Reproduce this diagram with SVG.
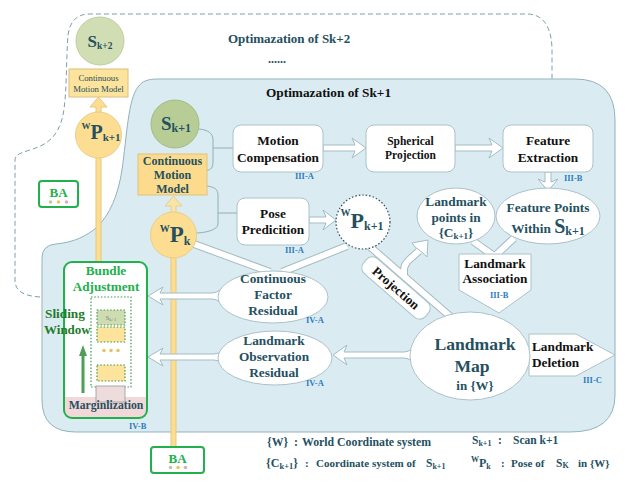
<svg xmlns="http://www.w3.org/2000/svg" width="625" height="491" viewBox="0 0 625 491">
<defs>
<style>
text{font-family:"Liberation Serif","Times New Roman",serif;font-weight:bold;}
.teal{fill:#24505f;}
.blk{fill:#111;}
.lbl{fill:#2e7cc0;font-size:8.5px;}
.box{fill:#fff;stroke:#aac2ca;stroke-width:1;}
.harrow{fill:#fff;stroke:#a3bcc5;stroke-width:1;}
.bandO{fill:none;stroke:#a3bcc5;stroke-width:8;stroke-linecap:butt;stroke-linejoin:round;}
.bandI{fill:none;stroke:#fff;stroke-width:6;stroke-linecap:butt;stroke-linejoin:round;}
.thin{fill:none;stroke:#8fb0b8;stroke-width:1;}
.yel{fill:#fcdd91;stroke:#e6c87e;stroke-width:1;}
.green{fill:#22b04c;}
.bagreen{fill:#fff;stroke:#22b04c;stroke-width:2;}
.dotg{stroke:#3a9a4a;stroke-width:1.2;stroke-dasharray:1.5,1.8;}
</style>
</defs>

<!-- containers -->
<path id="outer-dashed" d="M40,297 C25,296 15,292 15,280 L15,160 C15,155 20,153 30,150 C46,145 58,138 63,115 C67,95 66,60 68,35 C70,22 76,14 90,14 L527,14 C545,14 552,30 552,50 L552,79" fill="none" stroke="#7f9ea8" stroke-width="1" stroke-dasharray="5,3"/>
<path id="inner-region" d="M42,258 Q42,245 56,244 C75,242 86,236 96,228 C110,215 118,195 122,170 C127,135 128,100 138,87 C142,81 148,79 158,79 L575,79 Q615,79 615,120 L615,395 Q615,432 570,432 L76,432 Q42,432 42,400 Z" fill="#daecf2" stroke="#93b2bc" stroke-width="1"/>

<!-- titles -->
<text x="228" y="43" font-size="13" class="teal">Optimazation of Sk+2</text>
<text x="268" y="63" font-size="12" class="teal">......</text>
<text x="266" y="97" font-size="13.3" class="blk">Optimazation of Sk+1</text>

<!-- connectors -->
<g id="connectors">
<path class="thin" d="M199,129 C208,130 213,133 213,140 L213,161 C213,168 211,170 207,170"/>
<path class="thin" d="M213,148 L233,148"/>
<path class="thin" d="M207,186 C214,187 218,189 218,195 L218,224 C218,230 205,233 195,233"/>
<path class="thin" d="M218,213 L237,213"/>

<!-- yellow bars and arrows -->
<rect x="96" y="112" width="5" height="150" class="yel"/>
<path d="M96,113 V107 H90 L98.5,97 L107,107 H101 V113 Z" class="yel"/>
<rect x="171" y="257" width="5" height="190" class="yel"/>
<path d="M171,213 V206 H165 L173.5,196 L182,206 H176 V213 Z" fill="#f8e3a8" stroke="#e6cf90" stroke-width="1"/>

<!-- white bands -->
<g>
<path class="bandO" d="M194,244 L270,272"/>
<path class="bandO" d="M347,246 L282,272"/>
<path class="bandO" d="M368,245 L452,318"/>
<path class="bandO" d="M404,277 L404,270 Q404,264 410,259 L419,251"/>
<path class="bandO" d="M473,241 L494,256"/>
<path class="bandO" d="M514,238 L495,256"/>
<path class="bandI" d="M194,244 L270,272"/>
<path class="bandI" d="M347,246 L282,272"/>
<path class="bandI" d="M368,245 L452,318"/>
<path class="bandI" d="M404,277 L404,270 Q404,264 410,259 L420,250"/>
<path class="bandI" d="M473,241 L494,256"/>
<path class="bandI" d="M514,238 L495,256"/>
<path class="harrow" d="M415,247 L412,243 L428,240 L427,257 L423,253 Z"/>
</g>

<!-- hollow arrows -->
<path class="harrow" d="M323,145 H355 L352,138 L366,148 L352,158 L355,151 H323 Z"/>
<path class="harrow" d="M455,145 H492 L489,138 L503,148 L489,158 L492,151 H455 Z"/>
<path class="harrow" d="M545,172 V182 L538,179 L548,191 L558,179 L551,182 V172 Z"/>
<path class="harrow" d="M309,217 H326 L323,210 L336,220 L323,230 L326,223 H309 Z"/>
<path class="harrow" d="M220,290 Q216,293 212,293 H160 L163,287 L148,296 L163,305 L160,299 H212 Q216,299 220,302 Z"/>
<path class="harrow" d="M222,351 Q218,354 214,354 H160 L163,348 L148,357 L163,366 L160,360 H214 Q218,360 222,363 Z"/>
<path class="harrow" d="M412,349 Q408,352 404,352 H344 L347,345 L333,355 L347,365 L344,358 H404 Q408,358 412,361 Z"/>
</g>

<!-- Sk+2 -->
<g id="node-sk2">
<circle cx="100" cy="41" r="24" fill="#d1ddb3" stroke="#bfcf9f" stroke-width="1"/>
<text x="100" y="47" text-anchor="middle" class="teal"><tspan font-size="17">S</tspan><tspan font-size="9.5" dy="2">k+2</tspan></text>
</g>

<!-- small CMM -->
<g id="node-cmm-small">
<rect x="69" y="69" width="59" height="28" fill="#fde39b" stroke="#d9c084" stroke-width="1"/>
<text x="98.5" y="81" text-anchor="middle" font-size="8.7" class="teal" style="font-weight:normal">Continuous</text>
<text x="98.5" y="92" text-anchor="middle" font-size="8.7" class="teal" style="font-weight:normal">Motion Model</text>
</g>

<!-- Wpk+1 left -->
<g id="node-wpk1-left">
<circle cx="98.5" cy="135" r="23" fill="#fcdd91" stroke="#e9cf88" stroke-width="1"/>
<text x="101" y="139" text-anchor="middle" class="teal"><tspan font-size="9" dy="-10">W</tspan><tspan font-size="20" dy="10">P</tspan><tspan font-size="11" dy="2">k+1</tspan></text>
</g>

<!-- BA left -->
<g id="node-ba-left">
<rect x="39" y="181" width="39" height="26" rx="3" class="bagreen"/>
<text x="58.5" y="197" text-anchor="middle" font-size="13" class="green">BA</text>
<circle cx="50.5" cy="202" r="1.8" fill="#b9cba3"/>
<circle cx="58.5" cy="202" r="1.8" fill="#e6c66a"/>
<circle cx="66.5" cy="202" r="1.8" fill="#d6b3bb"/>
</g>

<!-- Sk+1 -->
<g id="node-sk1">
<circle cx="175" cy="124" r="24" fill="#b7cd95" stroke="#a3bb86" stroke-width="1"/>
<text x="176" y="130" text-anchor="middle" class="teal"><tspan font-size="19">S</tspan><tspan font-size="12" dy="2">k+1</tspan></text>
</g>

<!-- CMM -->
<g id="node-cmm">
<rect x="138" y="154" width="69" height="41" fill="#fcdb8d" stroke="#dfc27c" stroke-width="1"/>
<text x="172.5" y="165" text-anchor="middle" font-size="12" class="teal">Continuous</text>
<text x="172.5" y="179" text-anchor="middle" font-size="12" class="teal">Motion</text>
<text x="172.5" y="193" text-anchor="middle" font-size="12" class="teal">Model</text>
</g>

<!-- Wpk -->
<g id="node-wpk">
<circle cx="173.5" cy="235" r="23" fill="#fcdd91" stroke="#e9cf88" stroke-width="1"/>
<text x="175" y="242" text-anchor="middle" class="teal"><tspan font-size="10" dy="-10">W</tspan><tspan font-size="23" dy="10">P</tspan><tspan font-size="12" dy="3">k</tspan></text>
</g>

<!-- BA bottom -->
<g id="node-ba-bottom">
<rect x="151" y="447" width="53" height="26" rx="3" class="bagreen"/>
<text x="177.5" y="463" text-anchor="middle" font-size="13" class="green">BA</text>
<circle cx="170.5" cy="467.5" r="1.8" fill="#b9cba3"/>
<circle cx="178" cy="467.5" r="1.8" fill="#e6c66a"/>
<circle cx="185.5" cy="467.5" r="1.8" fill="#d6b3bb"/>
</g>

<!-- Motion Compensation -->
<g id="node-motion-comp">
<rect x="233" y="125" width="90" height="47" rx="8" class="box"/>
<text x="278" y="145" text-anchor="middle" font-size="13.3" class="blk">Motion</text>
<text x="278" y="162" text-anchor="middle" font-size="13.3" class="blk">Compensation</text>
<text x="295" y="179" class="lbl">III-A</text>
</g>

<!-- Spherical Projection -->
<g id="node-spherical">
<rect x="366" y="125" width="89" height="47" rx="8" class="box"/>
<text x="410.5" y="145" text-anchor="middle" font-size="11.5" class="blk">Spherical</text>
<text x="410.5" y="159" text-anchor="middle" font-size="11.5" class="blk">Projection</text>
</g>

<!-- Feature Extraction -->
<g id="node-feature-ext">
<rect x="503" y="125" width="90" height="47" rx="8" class="box"/>
<text x="548" y="145" text-anchor="middle" font-size="13.3" class="blk">Feature</text>
<text x="548" y="162" text-anchor="middle" font-size="13.3" class="blk">Extraction</text>
<text x="564" y="181" class="lbl">III-B</text>
</g>

<!-- Pose Predicition -->
<g id="node-pose-pred">
<rect x="237" y="198" width="72" height="47" rx="8" class="box"/>
<text x="273" y="218" text-anchor="middle" font-size="13.3" class="blk">Pose</text>
<text x="273" y="234" text-anchor="middle" font-size="13.3" class="blk">Predicition</text>
<text x="285" y="253" class="lbl">III-A</text>
</g>

<!-- Wpk+1 dotted -->
<g id="node-wpk1">
<circle cx="363" cy="222" r="27" fill="#fff" stroke="#2a4f5e" stroke-width="1.2" stroke-dasharray="1.5,2"/>
<text x="362" y="228" text-anchor="middle" class="teal"><tspan font-size="10" dy="-12">W</tspan><tspan font-size="22" dy="12">P</tspan><tspan font-size="12" dy="2">k+1</tspan></text>
</g>

<!-- Landmark points in Ck+1 -->
<g id="node-landmark-points">
<ellipse cx="456" cy="216" rx="39" ry="28" class="box"/>
<text x="456" y="206" text-anchor="middle" font-size="13.3" class="teal">Landmark</text>
<text x="456" y="222" text-anchor="middle" font-size="13.3" class="teal">points in</text>
<text x="456" y="237" text-anchor="middle" class="teal"><tspan font-size="13.3">{C</tspan><tspan font-size="9" dy="2">k+1</tspan><tspan font-size="13.3" dy="-2">}</tspan></text>
</g>

<!-- Feature Points Within Sk+1 -->
<g id="node-feature-points">
<ellipse cx="548" cy="216" rx="52" ry="28" class="box"/>
<text x="548" y="212" text-anchor="middle" font-size="13.3" class="teal">Feature Points</text>
<text x="548" y="233" text-anchor="middle" class="teal"><tspan font-size="13.3">Within  </tspan><tspan font-size="20">S</tspan><tspan font-size="12" dy="2">k+1</tspan></text>
</g>

<!-- Landmark Association -->
<g id="node-landmark-assoc">
<path d="M459,254 H531 V290 L499,313 L459,290 Z" class="box"/>
<text x="495" y="268" text-anchor="middle" font-size="13.3" class="blk">Landmark</text>
<text x="495" y="283" text-anchor="middle" font-size="13.3" class="blk">Association</text>
<text x="490" y="298" class="lbl">III-B</text>
</g>

<!-- Projection label -->
<g id="node-projection" transform="translate(396,288) rotate(41)">
<rect x="-41" y="-10" width="82" height="20" rx="8" class="box"/>
<text x="0" y="4.5" text-anchor="middle" font-size="13" class="blk">Projection</text>
</g>

<!-- Continuous Factor Residual -->
<g id="node-cfr">
<ellipse cx="273" cy="297" rx="55" ry="26" class="box"/>
<text x="273" y="283" text-anchor="middle" font-size="13.3" class="teal">Continuous</text>
<text x="273" y="299" text-anchor="middle" font-size="13.3" class="teal">Factor</text>
<text x="273" y="315" text-anchor="middle" font-size="13.3" class="teal">Residual</text>
<text x="306" y="323" class="lbl">IV-A</text>
</g>

<!-- Landmark Observation Residual -->
<g id="node-lor">
<ellipse cx="275" cy="358" rx="57" ry="27" class="box"/>
<text x="274" y="345" text-anchor="middle" font-size="13.3" class="teal">Landmark</text>
<text x="274" y="361" text-anchor="middle" font-size="13.3" class="teal">Observation</text>
<text x="274" y="377" text-anchor="middle" font-size="13.3" class="teal">Residual</text>
<text x="306" y="386" class="lbl">IV-A</text>
</g>

<!-- Landmark Deletion -->
<g id="node-landmark-del">
<path d="M529,334 H576 L615,355 L576,376 H529 Z" class="box"/>
<text x="532" y="351" font-size="13.3" class="blk">Landmark</text>
<text x="532" y="367" font-size="13.3" class="blk">Deletion</text>
<text x="583" y="383" class="lbl">III-C</text>
</g>

<!-- Landmark Map -->
<g id="node-landmark-map">
<ellipse cx="470" cy="356" rx="60" ry="44" class="box"/>
<text x="475" y="350" text-anchor="middle" font-size="17.6" class="teal">Landmark</text>
<text x="472" y="372" text-anchor="middle" font-size="17.6" class="teal">Map</text>
<text x="475" y="390" text-anchor="middle" font-size="13" class="teal">in {W}</text>
</g>

<!-- Bundle Adjustment -->
<g id="node-bundle">
<rect x="64" y="262" width="83" height="156" rx="8" fill="#fff"/>
<rect x="65" y="397" width="81" height="20" fill="#f2d8d9"/>
<rect x="91" y="297" width="40" height="90" fill="#fff" class="dotg"/>
<rect x="97" y="310" width="28" height="15" fill="#cfdcb1" class="dotg"/>
<text x="111" y="320" text-anchor="middle" font-size="6" fill="#6a7a70" style="font-weight:normal">S<tspan font-size="4.5" dy="1">k+1</tspan></text>
<rect x="97" y="327" width="28" height="15" fill="#fde39b" class="dotg"/>
<circle cx="104" cy="350.5" r="1.8" fill="#e8c266"/>
<circle cx="111" cy="350.5" r="1.8" fill="#e8c266"/>
<circle cx="118" cy="350.5" r="1.8" fill="#e8c266"/>
<rect x="97" y="365" width="28" height="16" fill="#fde39b" class="dotg"/>
<rect x="96" y="386" width="29" height="16" fill="#eedcdc" stroke="#9a9a9a" stroke-width="0.8"/>
<text x="106" y="409" text-anchor="middle" font-size="11.7" class="teal">Marginlization</text>
<rect x="64" y="262" width="83" height="156" rx="8" fill="none" stroke="#22b04c" stroke-width="2"/>
<text x="106" y="275" text-anchor="middle" font-size="13.2" class="green">Bundle</text>
<text x="106" y="291" text-anchor="middle" font-size="13.2" class="green">Adjustment</text>
<text x="45" y="318" font-size="13.3" fill="#1f7a2b">Sliding</text>
<text x="44" y="334" font-size="13" fill="#1f7a2b">Window</text>
<rect x="81.5" y="355" width="3" height="38" fill="#4f9e57"/>
<path d="M79,356 L83,345 L87,356 Z" fill="#4f9e57"/>
<text x="129" y="429" class="lbl">IV-B</text>
</g>

<!-- legend -->
<g id="legend">
<text x="267" y="446" font-size="11.8" class="teal">{W}</text>
<text x="294" y="446" font-size="11.8" class="teal">:</text>
<text x="302" y="446" font-size="11.8" class="teal">World Coordinate system</text>
<text x="266" y="467" class="teal"><tspan font-size="12">{C</tspan><tspan font-size="8.5" dy="2">k+1</tspan><tspan font-size="12" dy="-2">}</tspan></text>
<text x="305" y="467" font-size="11" class="teal">:</text>
<text x="316" y="467" font-size="11" class="teal">Coordinate system of</text>
<text x="426" y="467" class="teal"><tspan font-size="11.5">S</tspan><tspan font-size="8" dy="2">k+1</tspan></text>
<text x="472" y="444" class="teal"><tspan font-size="11.5">S</tspan><tspan font-size="8" dy="2">k+1</tspan></text>
<text x="498" y="444" font-size="11.5" class="teal">:</text>
<text x="513" y="444" font-size="11.5" class="teal">Scan k+1</text>
<text x="471" y="467" class="teal"><tspan font-size="8" dy="-5">W</tspan><tspan font-size="12" dy="5">P</tspan><tspan font-size="8" dy="2">k</tspan></text>
<text x="501" y="467" font-size="11" class="teal">:</text>
<text x="511" y="467" font-size="11" class="teal">Pose of</text>
<text x="556" y="467" class="teal"><tspan font-size="11.5">S</tspan><tspan font-size="8" dy="1">K</tspan></text>
<text x="578" y="467" font-size="11" class="teal">in {W}</text>
</g>
</svg>
